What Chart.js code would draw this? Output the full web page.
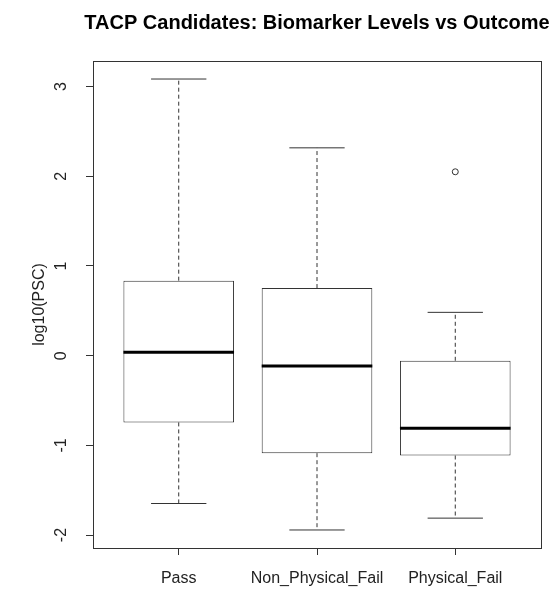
<!DOCTYPE html>
<html>
<head>
<meta charset="utf-8">
<script src="https://cdn.jsdelivr.net/npm/chart.js@4.4.1/dist/chart.umd.min.js"></script>
<style>
  html, body { margin: 0; padding: 0; background: #fff; }
  #wrap { width: 557px; height: 589px; }
</style>
</head>
<body>
<div id="wrap"><canvas id="boxChart"></canvas></div>
<script>
// groups and five-number summaries (log10 PSC)
const groups = ["Pass", "Non_Physical_Fail", "Physical_Fail"];
const whiskerLow = [-1.648, -1.943, -1.811];
const q1 = [-0.744, -1.087, -1.113];
const medians = [0.037, -0.116, -0.808];
const q3 = [0.836, 0.754, -0.057];
const whiskerHigh = [3.084, 2.317, 0.483];
const outlierGroup = [3];
const outlierValue = [2.05];
const yTicks = [-2, -1, 0, 1, 2, 3];

const chartTitle = "TACP Candidates: Biomarker Levels vs Outcome";
const lineColor = "#333333";
const fontFamily = "Liberation Sans, Arial, sans-serif";

// whiskers, caps, medians, the frame round the plot and the title
const boxPlotExtras = {
    id: "boxPlotExtras",
    afterDatasetsDraw(chart) {
        const ctx = chart.ctx;
        const x = chart.scales.x;
        const y = chart.scales.y;
        ctx.save();
        groups.forEach((g, i) => {
            const cx = x.getPixelForValue(i + 1);
            const half = (x.getPixelForValue(1.4) - x.getPixelForValue(1));
            const capHalf = half / 2;

            // dashed whiskers
            ctx.strokeStyle = lineColor;
            ctx.lineWidth = 1;
            ctx.setLineDash([4, 3]);
            ctx.beginPath();
            ctx.moveTo(cx, y.getPixelForValue(q3[i]));
            ctx.lineTo(cx, y.getPixelForValue(whiskerHigh[i]));
            ctx.moveTo(cx, y.getPixelForValue(q1[i]));
            ctx.lineTo(cx, y.getPixelForValue(whiskerLow[i]));
            ctx.stroke();

            // caps
            ctx.setLineDash([]);
            ctx.beginPath();
            ctx.moveTo(cx - capHalf, y.getPixelForValue(whiskerHigh[i]));
            ctx.lineTo(cx + capHalf, y.getPixelForValue(whiskerHigh[i]));
            ctx.moveTo(cx - capHalf, y.getPixelForValue(whiskerLow[i]));
            ctx.lineTo(cx + capHalf, y.getPixelForValue(whiskerLow[i]));
            ctx.stroke();

            // median
            ctx.strokeStyle = "#000";
            ctx.lineWidth = 3;
            ctx.beginPath();
            ctx.moveTo(cx - half, y.getPixelForValue(medians[i]));
            ctx.lineTo(cx + half, y.getPixelForValue(medians[i]));
            ctx.stroke();
        });

        const a = chart.chartArea;
        ctx.strokeStyle = lineColor;
        ctx.lineWidth = 1;
        ctx.strokeRect(a.left + 0.5, a.top + 0.5, a.right - a.left, a.bottom - a.top);

        // title centred over the plot region, like R does
        ctx.fillStyle = "#000";
        ctx.font = "bold 20px " + fontFamily;
        ctx.textAlign = "center";
        ctx.textBaseline = "alphabetic";
        ctx.fillText(chartTitle, (a.left + a.right) / 2, 29);
        ctx.restore();
    }
};

const ctx = document.getElementById("boxChart").getContext("2d");

new Chart(ctx, {
    type: "bar",
    data: {
        datasets: [{
            data: groups.map((g, i) => ({ x: i + 1, y: [q1[i], q3[i]] })),
            backgroundColor: "#ffffff",
            borderColor: lineColor,
            borderWidth: 1,
            borderSkipped: false,
            categoryPercentage: 1,
            barPercentage: 0.8
        }, {
            type: "scatter",
            data: outlierGroup.map((g, i) => ({ x: g, y: outlierValue[i] })),
            pointRadius: 3,
            pointBackgroundColor: "#ffffff",
            pointBorderColor: lineColor,
            pointBorderWidth: 1
        }]
    },
    plugins: [boxPlotExtras],
    options: {
        responsive: true,
        maintainAspectRatio: false,
        animation: false,
        layout: { padding: { left: 0, right: 16, top: 61, bottom: 0 } },
        plugins: {
            legend: { display: false },
            tooltip: { enabled: false },
            title: { display: false }
        },
        scales: {
            x: {
                type: "linear",
                min: 0.38,
                max: 3.62,
                offset: false,
                afterBuildTicks: (scale) => { scale.ticks = groups.map((g, i) => ({ value: i + 1 })); },
                afterFit: (scale) => { scale.height = 41; },
                border: { display: false },
                grid: { offset: false, drawOnChartArea: false, drawTicks: true, tickLength: 7, color: lineColor },
                ticks: {
                    color: "#222",
                    padding: 14,
                    maxRotation: 0,
                    autoSkip: false,
                    font: { family: fontFamily, size: 16 },
                    callback: (v) => groups[v - 1]
                }
            },
            y: {
                min: -2.144,
                max: 3.285,
                afterBuildTicks: (scale) => { scale.ticks = yTicks.map(v => ({ value: v })); },
                afterFit: (scale) => { scale.width = 93; },
                border: { display: false },
                grid: { drawOnChartArea: false, drawTicks: true, tickLength: 7, color: lineColor },
                title: {
                    display: true,
                    text: "log10(PSC)",
                    color: "#222",
                    font: { family: fontFamily, size: 16 },
                    padding: { top: 30, bottom: 0 }
                },
                ticks: {
                    color: "#222",
                    padding: 17,
                    minRotation: 90,
                    maxRotation: 90,
                    crossAlign: "center",
                    font: { family: fontFamily, size: 16 }
                }
            }
        }
    }
});
</script>
</body>
</html>
